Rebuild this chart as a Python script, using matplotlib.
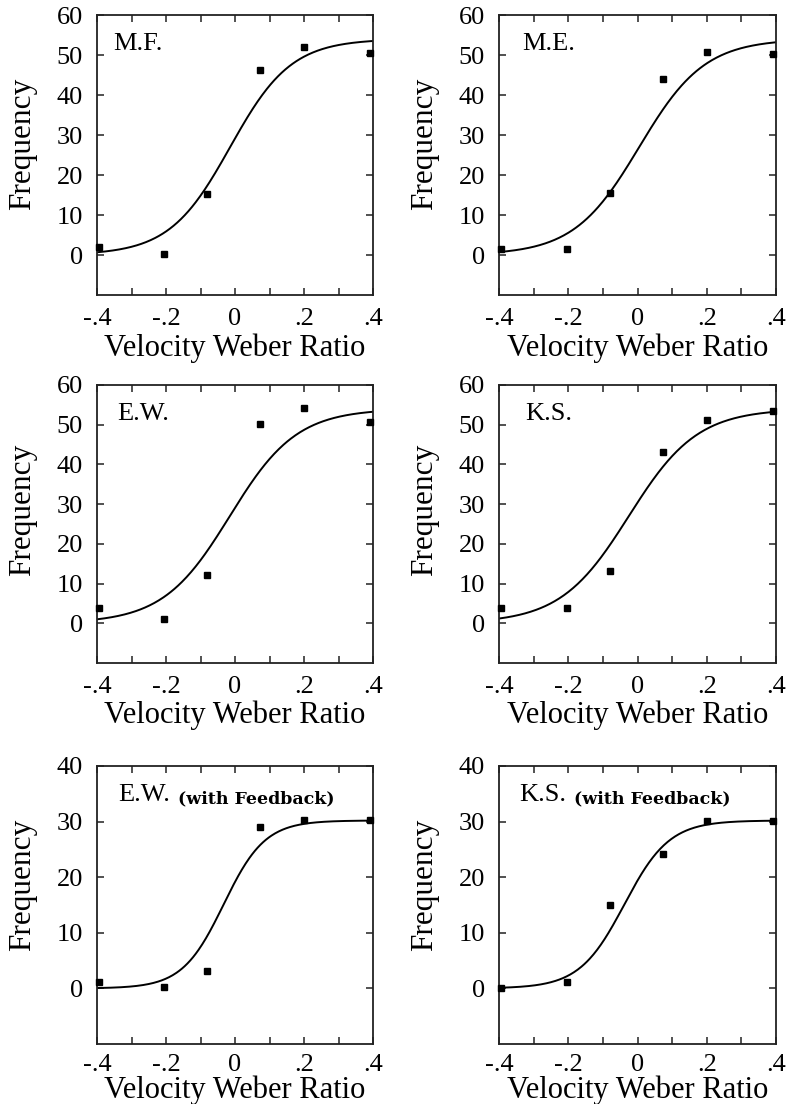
import numpy as np
import matplotlib
matplotlib.use("Agg")
import matplotlib.pyplot as plt

plt.rcParams['font.family'] = ['Liberation Serif', 'DejaVu Serif']

# stimulus levels (velocity Weber ratio) shared by every panel
weber = [-0.395, -0.205, -0.08, 0.073, 0.2, 0.392]

# observed frequencies
freq_mf = [2.1, 0.3, 15.3, 46.2, 52.0, 50.6]
freq_me = [1.4, 1.4, 15.4, 44.0, 50.8, 50.2]
freq_ew = [3.9, 1.1, 12.1, 50.1, 54.1, 50.7]
freq_ks = [3.9, 3.9, 13.2, 43.2, 51.1, 53.4]
freq_ew_fb = [1.2, 0.2, 3.1, 29.1, 30.2, 30.2]
freq_ks_fb = [0.1, 1.2, 15.0, 24.1, 30.1, 30.1]

# fitted psychometric curves: (upper asymptote, midpoint, spread)
fit_mf = (54.0, -0.014, 0.0885)
fit_me = (54.0, 0.005, 0.0946)
fit_ew = (54.0, -0.015, 0.097)
fit_ks = (54.0, -0.025, 0.099)
fit_ew_fb = (30.2, -0.033, 0.060)
fit_ks_fb = (30.2, -0.038, 0.065)

names = ["M.F.", "M.E.", "E.W.", "K.S.", "E.W.", "K.S."]
notes = ["", "", "", "", "(with Feedback)", "(with Feedback)"]
freqs = [freq_mf, freq_me, freq_ew, freq_ks, freq_ew_fb, freq_ks_fb]
fits = [fit_mf, fit_me, fit_ew, fit_ks, fit_ew_fb, fit_ks_fb]
ytops = [60, 60, 60, 60, 40, 40]

xtick_vals = [-0.4, -0.3, -0.2, -0.1, 0.0, 0.1, 0.2, 0.3, 0.4]
xtick_labels = ["-.4", "", "-.2", "", "0", "", ".2", "", ".4"]

# axes boxes in pixels (left, top, right, bottom)
W, H = 787, 1104
boxes = [(97, 15, 373, 295), (499, 15, 776, 295),
         (97, 385, 373, 663), (499, 385, 776, 663),
         (97, 766, 373, 1044), (499, 766, 776, 1044)]
label_x = [0.058, 0.083, 0.073, 0.095, 0.077, 0.072]
ylab_y = [0.541, 0.541, 0.55, 0.55, 0.572, 0.572]
xlab_y = [-0.136, -0.136, -0.136, -0.136, -0.113, -0.113]
xpad = [9.5, 9.5, 9.5, 9.5, 7.5, 7.5]

fig = plt.figure(figsize=(W / 100, H / 100), dpi=100)

for i in range(6):
    l, t, r, b = boxes[i]
    ax = fig.add_axes([l / W, 1 - b / H, (r - l) / W, (b - t) / H])

    top, mid, spread = fits[i]
    xs = np.linspace(-0.4, 0.4, 300)
    ax.plot(xs, top / (1 + np.exp(-(xs - mid) / spread)), color='black', lw=1.4)
    ax.plot(weber, freqs[i], 's', color='black', ms=4.5, clip_on=False, zorder=3)

    ax.set_xlim(-0.4, 0.4)
    ax.set_ylim(-10, ytops[i])
    ax.set_xticks(xtick_vals)
    ax.set_xticklabels(xtick_labels)
    ax.set_yticks(list(range(0, ytops[i] + 1, 10)))
    ax.tick_params(direction='in', length=5, width=1.1, color='#222222',
                   top=True, right=True, labelsize=19)
    ax.tick_params(axis='x', pad=xpad[i])
    ax.tick_params(axis='y', pad=10)
    for s in ax.spines.values():
        s.set_linewidth(1.3)
        s.set_color('#222222')

    ax.set_xlabel("Velocity Weber Ratio", fontsize=22)
    ax.xaxis.set_label_coords(0.5, xlab_y[i])
    ax.set_ylabel("Frequency", fontsize=22.5)
    ax.yaxis.set_label_coords(-0.217, ylab_y[i])

    name = ax.text(label_x[i], 0.935, names[i], transform=ax.transAxes,
                   fontsize=19, va='top', ha='left')
    if notes[i]:
        ax.annotate(notes[i], xy=(1, 0), xycoords=name, xytext=(6, -1),
                    textcoords='offset points', fontsize=12.5,
                    family='DejaVu Serif', fontweight='bold',
                    va='bottom', ha='left')

fig.savefig("out.png", dpi=100)
